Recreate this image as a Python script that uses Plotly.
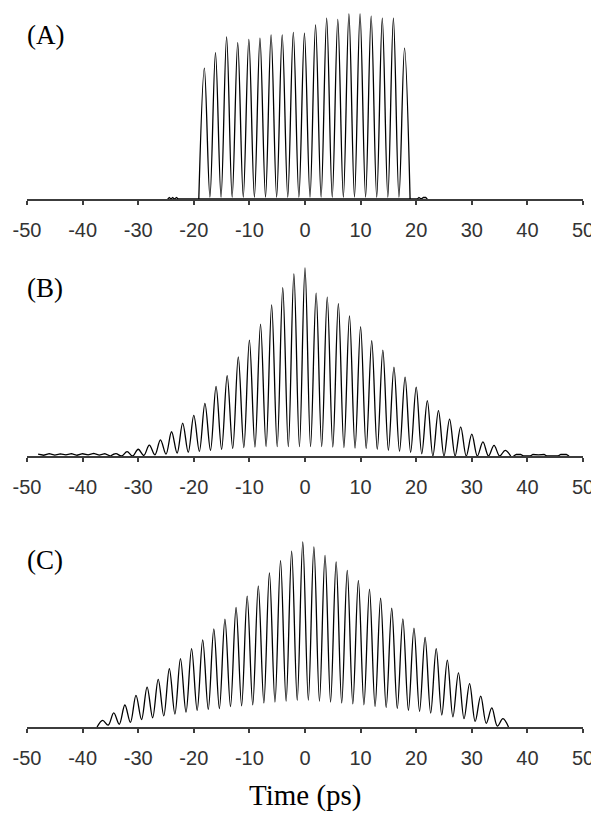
import plotly.graph_objects as go

# the page body keeps an 8 px margin, so the figure is drawn 8 px smaller and
# every screen position below is given relative to the 599x815 window
PAGE_OFF = 8
W, H = 599 - PAGE_OFF, 815 - PAGE_OFF

# ---- (A) peak times (ps) and heights (a.u.) ----
A_PEAK_T = [-18.1, -16.1, -14.1, -12.1, -10.1, -8.1, -6.1, -4.1, -2.1, -0.1,
            1.9, 3.9, 5.9, 7.9, 9.9, 11.9, 13.9, 15.9, 17.9]
A_PEAK_H = [0.707, 0.791, 0.876, 0.845, 0.863, 0.869, 0.887, 0.887, 0.901, 0.896,
            0.941, 0.977, 0.971, 1.0, 1.0, 0.989, 0.977, 0.977, 0.815]
A_TROUGH_H = [0.01, 0.01, 0.01, 0.01, 0.01, 0.01, 0.01, 0.01, 0.01,
              0.01, 0.01, 0.01, 0.01, 0.01, 0.01, 0.01, 0.01, 0.01]
A_EDGES = [-19.1, 18.9]
A_NOISE_T = [-24.7, -24.4, -24.1, -23.8, -23.5, -23.1, -22.8, 20.2, 20.5, 20.9, 21.3, 21.7, 22.0]
A_NOISE_H = [0.0, 0.008, 0.0, 0.008, 0.0, 0.008, 0.0, 0.0, 0.008, 0.0, 0.008, 0.008, 0.0]

# ---- (B) ----
B_PEAK_T = [-34, -32, -30, -28, -26, -24, -22, -20, -18, -16, -14, -12, -10, -8, -6, -4, -2, 0,
            2, 4, 6, 8, 10, 12, 14, 16, 18, 20, 22, 24, 26, 28, 30, 32, 34, 36]
B_PEAK_H = [0.0125, 0.023, 0.036, 0.058, 0.086, 0.129, 0.175, 0.216, 0.280, 0.370, 0.427,
            0.527, 0.616, 0.701, 0.804, 0.895, 0.968, 1.0,
            0.866, 0.845, 0.81, 0.745, 0.688, 0.613, 0.563, 0.473, 0.42, 0.366, 0.295,
            0.241, 0.196, 0.155, 0.116, 0.075, 0.057, 0.030]
B_TROUGH_H = [0.0, 0.0, 0.003, 0.006, 0.01, 0.015, 0.02, 0.025, 0.03, 0.035, 0.04, 0.045,
              0.048, 0.05, 0.05, 0.05, 0.05,
              0.05, 0.05, 0.048, 0.045, 0.042, 0.04, 0.035, 0.03, 0.025, 0.02, 0.012,
              0.0, 0.0, 0.0, 0.0, 0.0, 0.0, 0.0]
B_EDGES = [-35, 37]
B_NOISE_L_T = [-48, -47, -46, -45, -44, -43, -42, -41, -40, -39, -38, -37, -36, -35]
B_NOISE_L_H = [0.01, 0.004, 0.012, 0.005, 0.011, 0.006, 0.013, 0.004, 0.012, 0.006,
               0.014, 0.005, 0.012, 0.0]
B_NOISE_R_T = [37.5, 38, 38.8, 39.3, 40.5, 41, 42, 43, 43.5, 45.5, 46, 47, 47.5]
B_NOISE_R_H = [0, 0.008, 0.008, 0, 0, 0.008, 0.006, 0.008, 0, 0, 0.008, 0.008, 0]

# ---- (C) ----
C_PEAK_T = [-36.4, -34.4, -32.4, -30.4, -28.4, -26.4, -24.4, -22.4, -20.4, -18.4, -16.4,
            -14.4, -12.4, -10.4, -8.4, -6.4, -4.4, -2.4, -0.4,
            1.6, 3.6, 5.6, 7.6, 9.6, 11.6, 13.6, 15.6, 17.6, 19.6, 21.6, 23.6, 25.6,
            27.6, 29.6, 31.6, 33.6, 35.6]
C_PEAK_H = [0.036, 0.076, 0.119, 0.171, 0.216, 0.257, 0.315, 0.37, 0.424, 0.471, 0.53,
            0.583, 0.646, 0.707, 0.763, 0.833, 0.899, 0.95, 1.0,
            0.973, 0.928, 0.892, 0.847, 0.793, 0.745, 0.696, 0.642, 0.585, 0.534, 0.484,
            0.424, 0.362, 0.293, 0.234, 0.167, 0.103, 0.045]
C_TROUGH_H = [0.01, 0.015, 0.025, 0.04, 0.05, 0.06, 0.07, 0.08, 0.09, 0.095, 0.10, 0.11,
              0.115, 0.12, 0.13, 0.135, 0.14, 0.145,
              0.145, 0.14, 0.135, 0.13, 0.125, 0.12, 0.11, 0.105, 0.10, 0.09, 0.085,
              0.075, 0.065, 0.055, 0.045, 0.03, 0.02, 0.005]
C_EDGES = [-37.4, 36.6]

X_TICKS = [-50, -40, -30, -20, -10, 0, 10, 20, 30, 40, 50]
LABELS = ["(A)", "(B)", "(C)"]

# panel geometry in window px: axis line, top of tallest peak, top of plot area, label centre
PANELS = [(199, 14, 9, 35), (456, 268, 262, 288), (727, 542, 535, 560)]
TITLE_Y = 795

AXIS_COLOR = "#3c3c3c"


def pulse_train(peak_t, peak_h, trough_h, edges):
    xs, ys = [edges[0]], [0.0]
    for i, (t, h) in enumerate(zip(peak_t, peak_h)):
        xs.append(t)
        ys.append(h)
        if i < len(trough_h):
            xs.append((t + peak_t[i + 1]) / 2)
            ys.append(trough_h[i])
    xs.append(edges[1])
    ys.append(0.0)
    return xs, ys


def py(px):
    # window px (from top) -> paper fraction
    return (H - (px - PAGE_OFF)) / H


fig = go.Figure()
line = dict(color="black", width=1.3)

series = [
    (A_PEAK_T, A_PEAK_H, A_TROUGH_H, A_EDGES, [(A_NOISE_T, A_NOISE_H)]),
    (B_PEAK_T, B_PEAK_H, B_TROUGH_H, B_EDGES, [(B_NOISE_L_T, B_NOISE_L_H), (B_NOISE_R_T, B_NOISE_R_H)]),
    (C_PEAK_T, C_PEAK_H, C_TROUGH_H, C_EDGES, []),
]

for k, (pt, ph, th, ed, noise) in enumerate(series):
    ax = "" if k == 0 else str(k + 1)
    xs, ys = pulse_train(pt, ph, th, ed)
    fig.add_trace(go.Scatter(x=xs, y=ys, mode="lines", line=dict(line, shape="spline", smoothing=1.0),
                             xaxis="x" + ax, yaxis="y" + ax, hoverinfo="skip"))
    for nt, nh in noise:
        fig.add_trace(go.Scatter(x=nt, y=nh, mode="lines", line=line,
                                 xaxis="x" + ax, yaxis="y" + ax, hoverinfo="skip"))

layout = dict(
    width=W, height=H,
    margin=dict(l=27 - PAGE_OFF, r=16, t=0, b=0),
    plot_bgcolor="white", paper_bgcolor="white",
    showlegend=False,
)

annotations = []
for k, (axis_px, peak_px, top_px, lab_px) in enumerate(PANELS):
    ax = "" if k == 0 else str(k + 1)
    layout["xaxis" + ax] = dict(
        domain=[0, 1], anchor="y" + ax, range=[-50, 50],
        tickmode="array", tickvals=X_TICKS, ticktext=[str(v) for v in X_TICKS],
        showline=True, linecolor=AXIS_COLOR, linewidth=1.5,
        ticks="outside", ticklen=4, tickwidth=1.5, tickcolor=AXIS_COLOR,
        showgrid=False, zeroline=False, ticklabelstandoff=8,
        tickfont=dict(family="Liberation Sans", size=20, color="#333"),
    )
    layout["yaxis" + ax] = dict(
        domain=[py(axis_px), py(top_px)], anchor="x" + ax,
        range=[0, (axis_px - top_px) / (axis_px - peak_px)],
        visible=False,
    )
    annotations.append(dict(
        text=LABELS[k], xref="paper", yref="paper", x=-0.004, y=py(lab_px),
        xanchor="left", yanchor="middle", showarrow=False,
        font=dict(family="Liberation Serif", size=27, color="black"),
    ))

annotations.append(dict(
    text="Time (ps)", xref="paper", yref="paper", x=0.5, y=py(TITLE_Y),
    xanchor="center", yanchor="middle", showarrow=False,
    font=dict(family="Liberation Serif", size=29, color="black"),
))
layout["annotations"] = annotations

fig.update_layout(**layout)
fig.write_html("out.html")
